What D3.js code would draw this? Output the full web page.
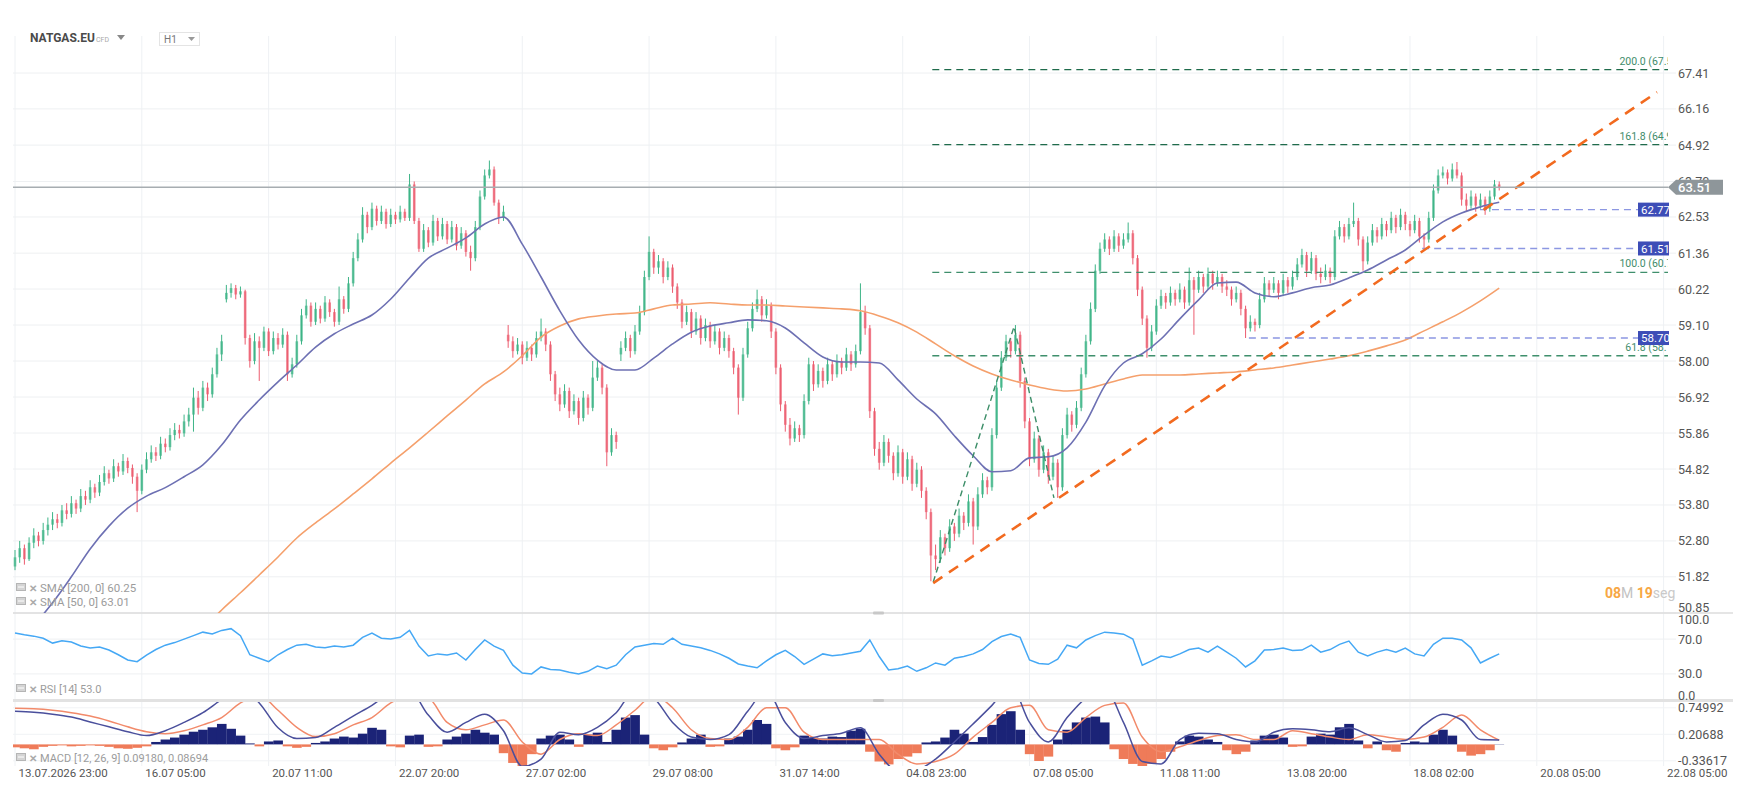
<!DOCTYPE html>
<html>
<head>
<meta charset="utf-8">
<script src="https://d3js.org/d3.v7.min.js"></script>
<style>
    body { margin: 0; background: #fff; font-family: Roboto, "Noto Sans", sans-serif; }
    svg { display: block; }
    .axis path, .axis line { display: none; }
    .axis text { font-family: Roboto, sans-serif; fill: #555; }
</style>
</head>
<body>
<svg id="chart"></svg>

<script>
// -------------------------------------- data --------------------------------------
// H1 chart, drawn here with one candle every 2 hours
const candleOpen = [
 52.10,52.35,52.60,52.30,52.75,52.95,52.80,53.10,53.25,53.40, 53.30,53.65,53.55,53.85,53.70,54.05,53.95,54.30,54.15,54.45,
 54.70,54.55,54.90,54.75,55.05,54.85,54.60,54.20,54.80,55.10, 55.30,55.20,55.55,55.45,55.80,55.95,55.85,56.20,56.40,56.90,
 56.60,57.20,57.00,57.60,58.20,59.90,60.10,60.25,60.05,60.15, 58.70,58.00,58.60,58.40,58.90,58.30,58.70,58.50,58.80,57.60,
 57.90,58.60,59.40,59.70,59.20,59.60,59.30,59.80,59.50,59.20, 59.90,59.60,60.40,61.20,61.80,62.60,62.20,62.80,62.40,62.70,
 62.30,62.60,62.45,62.70,62.50,63.60,62.40,61.50,62.10,61.70, 62.40,61.90,62.30,61.80,62.20,61.60,62.00,61.40,61.20,62.20,
 63.20,63.90,64.10,63.00,62.50,58.80,58.60,58.30,58.50,58.10, 58.40,58.20,58.70,58.90,58.50,57.60,57.00,56.70,57.10,56.50,
 56.80,56.30,56.90,56.60,57.50,57.80,57.20,55.30,55.80,58.20, 58.40,58.70,58.30,58.90,59.50,60.60,61.40,60.90,61.10,60.60,
 60.90,60.30,59.80,59.20,59.50,58.90,59.30,58.70,59.10,58.60, 58.90,58.40,58.70,58.30,57.80,56.90,58.20,59.00,59.60,59.90,
 59.40,59.70,58.90,57.80,56.70,56.10,55.70,56.00,55.80,56.80, 57.90,57.30,57.70,57.40,57.90,57.60,58.00,57.80,58.20,57.90,
 58.30,59.50,59.00,56.50,55.40,55.00,55.60,55.20,54.70,55.30, 54.60,55.10,54.40,54.80,54.20,53.60,52.40,52.30,52.90,52.60,
 53.20,53.00,53.50,53.30,53.90,53.20,54.10,54.50,54.30,55.80, 57.20,58.10,58.60,58.30,58.80,57.40,56.20,55.10,55.70,54.80,
 55.30,54.60,55.00,54.30,55.80,56.40,56.10,56.60,57.60,58.60, 59.60,60.80,61.50,61.80,61.50,61.90,61.60,61.80,62.00,61.20,
 60.20,59.30,58.40,58.90,59.70,60.00,59.80,60.10,59.90,60.20, 59.80,60.50,60.20,60.60,60.30,60.70,60.40,60.60,60.30,60.20,
 59.90,60.10,59.60,59.00,59.20,59.10,59.90,60.40,60.20,60.40, 60.10,60.50,60.30,60.60,61.00,61.30,60.80,61.20,60.70,60.60,
 60.80,60.60,61.90,62.20,61.90,62.30,62.40,61.80,61.10,61.70, 62.10,61.90,62.30,62.10,62.50,62.20,62.60,62.30,62.10,62.40,
 61.90,61.80,62.50,63.40,63.90,64.00,63.80,64.10,63.90,63.10, 62.90,63.20,62.90,63.10,62.80,63.20,63.60
];
const candleHigh = [
 52.55,52.80,52.70,52.90,53.15,53.05,53.30,53.45,53.60,53.55, 53.80,53.85,54.05,53.95,54.25,54.20,54.50,54.40,54.65,54.90,
 54.80,55.10,55.00,55.25,55.15,54.95,54.70,54.95,55.30,55.50, 55.45,55.75,55.70,56.00,56.15,56.10,56.40,56.60,57.20,57.10,
 57.40,57.35,57.80,58.40,58.80,60.35,60.40,60.35,60.30,60.20, 58.80,58.85,58.75,59.05,59.00,58.90,58.85,59.00,58.90,58.10,
 58.80,59.60,59.90,59.80,59.80,59.70,60.00,59.90,59.60,60.30, 60.00,60.60,61.40,62.00,62.85,62.70,63.00,62.90,62.90,62.80,
 62.80,62.70,62.90,62.80,63.95,63.70,62.50,62.30,62.20,62.60, 62.50,62.50,62.40,62.40,62.30,62.20,62.10,61.60,62.40,63.40,
 64.10,64.40,64.20,63.10,62.90,59.10,58.75,58.70,58.60,58.60, 58.50,58.90,59.30,59.00,58.60,57.70,57.20,57.30,57.20,57.00,
 56.90,57.10,57.00,58.00,58.00,57.90,57.30,56.00,55.90,58.60, 58.90,58.80,59.10,59.70,60.80,61.90,61.50,61.30,61.20,61.10,
 61.00,60.40,59.90,59.70,59.60,59.50,59.40,59.30,59.20,59.10, 59.00,58.90,58.80,58.40,57.90,58.40,59.20,59.80,60.20,60.00,
 59.90,59.80,59.00,57.90,56.80,56.30,56.20,56.10,57.00,58.10, 58.00,57.90,57.80,58.10,58.00,58.20,58.10,58.40,58.30,58.50,
 60.40,59.70,59.10,56.60,55.60,55.80,55.70,55.30,55.50,55.40, 55.30,55.20,55.00,54.90,54.30,53.70,52.70,53.10,53.00,53.40,
 53.30,53.70,53.60,54.10,54.00,54.30,54.70,54.60,56.00,57.40, 58.30,58.80,58.70,59.10,58.90,57.50,56.30,55.90,55.80,55.50,
 55.40,55.20,55.10,56.00,56.60,56.50,56.80,57.80,58.80,59.80, 61.00,61.70,62.00,61.90,62.10,62.00,62.00,62.35,62.10,61.30,
 60.30,59.40,59.10,59.90,60.20,60.10,60.30,60.20,60.40,60.30, 60.90,60.60,60.80,60.70,60.90,60.80,60.80,60.70,60.50,60.30,
 60.30,60.20,59.70,59.40,59.30,60.10,60.60,60.50,60.60,60.50, 60.70,60.60,60.80,61.20,61.50,61.40,61.40,61.30,60.90,61.00,
 60.90,62.10,62.40,62.30,62.50,63.00,62.50,61.90,61.90,62.30, 62.20,62.50,62.40,62.70,62.60,62.80,62.70,62.40,62.60,62.50,
 62.00,62.70,63.60,64.10,64.20,64.10,64.30,64.35,64.00,63.30, 63.40,63.30,63.30,63.20,63.40,63.75,63.70
];
const candleLow = [
 52.00,52.20,52.15,52.25,52.60,52.65,52.70,52.95,53.10,53.15, 53.20,53.40,53.45,53.55,53.60,53.80,53.85,54.00,54.05,54.35,
 54.40,54.45,54.60,54.65,54.70,54.40,53.60,54.10,54.70,55.00, 55.05,55.10,55.30,55.35,55.65,55.70,55.75,56.05,55.90,56.40,
 56.50,56.80,56.90,57.50,58.00,59.80,59.95,59.90,59.95,58.50, 57.80,57.90,57.40,58.30,58.15,58.20,58.35,58.40,57.40,57.50,
 57.80,58.50,59.30,59.05,59.10,59.15,59.20,59.35,59.05,59.10, 59.45,59.50,60.30,61.10,61.70,62.00,62.10,62.25,62.30,62.15,
 62.20,62.30,62.35,62.40,62.40,62.30,61.40,61.40,61.55,61.60, 61.75,61.80,61.65,61.70,61.45,61.50,61.25,60.80,61.10,62.10,
 63.10,63.80,62.90,62.30,62.40,58.40,58.10,58.20,57.90,58.00, 58.00,58.10,58.60,58.30,57.40,56.80,56.50,56.60,56.30,56.40,
 56.10,56.20,56.40,56.50,57.40,57.00,54.90,55.20,55.40,58.00, 58.30,58.10,58.20,58.80,59.40,60.50,60.70,60.70,60.40,60.50,
 60.10,59.60,59.00,59.10,58.70,58.80,58.50,58.60,58.40,58.50, 58.20,58.30,58.10,57.60,56.40,56.80,58.10,58.90,59.50,59.20,
 59.30,58.70,57.60,56.50,55.90,55.50,55.60,55.60,55.70,56.70, 57.10,57.20,57.20,57.30,57.40,57.50,57.60,57.70,57.70,57.80,
 58.20,58.80,56.30,55.20,54.80,54.90,55.00,54.50,54.60,54.40, 54.50,54.20,54.30,54.00,53.40,51.70,52.00,52.20,52.40,52.50,
 52.80,52.90,53.10,53.20,52.70,53.10,54.00,54.10,54.20,55.70, 57.10,58.00,58.10,58.20,57.20,56.00,54.90,55.00,54.60,54.70,
 54.40,54.50,54.00,54.20,55.70,55.90,56.00,56.50,57.50,58.50, 59.50,60.70,61.40,61.30,61.40,61.40,61.50,61.70,61.00,60.00,
 59.10,58.10,58.30,58.80,59.60,59.60,59.70,59.70,59.80,59.60, 59.70,58.80,60.10,60.10,60.20,60.20,60.30,60.10,60.00,59.70,
 59.80,59.40,58.70,58.90,58.90,59.00,59.80,60.00,60.10,59.90, 60.00,60.10,60.20,60.50,60.90,60.60,60.70,60.50,60.40,60.50,
 60.40,60.50,61.80,61.70,61.80,62.20,61.60,60.80,61.00,61.60, 61.70,61.80,61.90,62.00,62.00,62.10,62.10,61.90,62.00,61.70,
 61.50,61.70,62.40,63.30,63.80,63.60,63.70,63.80,62.90,62.70, 62.80,62.70,62.80,62.60,62.70,63.10,63.40
];
const candleClose = [
 52.35,52.60,52.30,52.75,52.95,52.80,53.10,53.25,53.40,53.30, 53.65,53.55,53.85,53.70,54.05,53.95,54.30,54.15,54.45,54.70,
 54.55,54.90,54.75,55.05,54.85,54.60,54.20,54.80,55.10,55.30, 55.20,55.55,55.45,55.80,55.95,55.85,56.20,56.40,56.90,56.60,
 57.20,57.00,57.60,58.20,58.60,60.10,60.25,60.05,60.15,58.70, 58.00,58.60,58.40,58.90,58.30,58.70,58.50,58.80,57.60,57.90,
 58.60,59.40,59.70,59.20,59.60,59.30,59.80,59.50,59.20,59.90, 59.60,60.40,61.20,61.80,62.60,62.20,62.80,62.40,62.70,62.30,
 62.60,62.45,62.70,62.50,63.60,62.40,61.50,62.10,61.70,62.40, 61.90,62.30,61.80,62.20,61.60,62.00,61.40,61.20,62.20,63.20,
 63.90,64.10,63.00,62.50,62.70,58.60,58.30,58.50,58.10,58.40, 58.20,58.70,58.90,58.50,57.60,57.00,56.70,57.10,56.50,56.80,
 56.30,56.90,56.60,57.50,57.80,57.20,55.30,55.80,55.60,58.40, 58.70,58.30,58.90,59.50,60.60,61.40,60.90,61.10,60.60,60.90,
 60.30,59.80,59.20,59.50,58.90,59.30,58.70,59.10,58.60,58.90, 58.40,58.70,58.30,57.80,56.90,58.20,59.00,59.60,59.90,59.40,
 59.70,58.90,57.80,56.70,56.10,55.70,56.00,55.80,56.80,57.90, 57.30,57.70,57.40,57.90,57.60,58.00,57.80,58.20,57.90,58.30,
 59.50,59.00,56.50,55.40,55.00,55.60,55.20,54.70,55.30,54.60, 55.10,54.40,54.80,54.20,53.60,52.40,52.30,52.90,52.60,53.20,
 53.00,53.50,53.30,53.90,53.20,54.10,54.50,54.30,55.80,57.20, 58.10,58.60,58.30,58.80,57.40,56.20,55.10,55.70,54.80,55.30,
 54.60,55.00,54.30,55.80,56.40,56.10,56.60,57.60,58.60,59.60, 60.80,61.50,61.80,61.50,61.90,61.60,61.80,62.00,61.20,60.20,
 59.30,58.40,58.90,59.70,60.00,59.80,60.10,59.90,60.20,59.80, 60.50,60.20,60.60,60.30,60.70,60.40,60.60,60.30,60.20,59.90,
 60.10,59.60,59.00,59.20,59.10,59.90,60.40,60.20,60.40,60.10, 60.50,60.30,60.60,61.00,61.30,60.80,61.20,60.70,60.60,60.80,
 60.60,61.90,62.20,61.90,62.30,62.40,61.80,61.10,61.70,62.10, 61.90,62.30,62.10,62.50,62.20,62.60,62.30,62.10,62.40,61.90,
 61.80,62.50,63.40,63.90,64.00,63.80,64.10,63.90,63.10,62.90, 63.20,62.90,63.10,62.80,63.20,63.60,63.51
];

// moving averages, one value every 4 candles
const sma50 = [
 50.14,50.54,51.12,51.82,52.58,53.21,53.71,54.05,54.29,54.60, 54.94,55.51,56.24,56.83,57.37,57.88,58.42,58.83,59.13,59.41,
 59.91,60.57,61.20,61.52,61.85,62.30,62.53,61.65,60.60,59.54, 58.64,58.03,57.73,57.73,58.09,58.52,58.88,59.07,59.17,59.26,
 59.23,59.01,58.55,58.12,57.97,57.97,57.94,57.43,56.86,56.42, 55.78,55.20,54.74,54.77,55.14,55.17,55.43,56.18,57.25,57.94,
 58.22,58.67,59.29,59.88,60.41,60.44,60.10,59.98,60.10,60.26, 60.35,60.57,60.82,61.14,61.46,61.94,62.37,62.66,62.86,63.01
];
const sma200 = [
 45.91,46.34,46.78,47.19,47.66,48.12,48.60,49.03,49.49,49.96, 50.43,50.93,51.39,51.87,52.36,52.88,53.30,53.69,54.11,54.54,
 54.99,55.43,55.89,56.36,56.83,57.31,57.67,58.16,58.73,59.07, 59.29,59.38,59.44,59.47,59.60,59.72,59.75,59.79,59.75,59.72,
 59.72,59.69,59.66,59.63,59.60,59.54,59.38,59.17,58.88,58.52, 58.16,57.85,57.61,57.43,57.28,57.16,57.10,57.16,57.31,57.46,
 57.58,57.58,57.58,57.61,57.64,57.67,57.73,57.79,57.88,57.97, 58.06,58.16,58.30,58.46,58.64,58.92,59.20,59.50,59.85,60.25
];

// RSI 14, one value every 2 candles
const rsi14 = [
 76.9,75,73.4,71,65.4,68,66.6,62,59.7,61, 57.4,52,46,44,51.7,58,63,66,70,74,
 78,76,80,82,74,52,48,44,52,58, 63,64,61,60,62,61,63,72,77,71,
 70,72,80,62,50.6,53,51.7,54,46,58, 69,62,57,40,31,30,38,35,34.6,32,
 30,33,39,36,40,52,61,63,65,64, 71,64,62,60,57,53,48,41.4,39,37,
 45,52,57,50,41,47,53,51,52,54, 56,69,50,34.6,36,39,33,37,42.6,40,
 48,50,53,58,67,73,75.7,72,46,42, 41,47,63,60,69,74,78,77,75.7,70,
 40,45,50.6,49,53,58,59.7,55,62,55, 48,38,45,57.4,58,59.7,57,57.4,63,55,
 58,64,67.7,55,50.6,55,58,55,59.7,53, 50.6,64,71,71,69,60,42.6,48,53
];

// MACD 12/26/9: histogram every 2 candles, lines every 4 candles
const macdHist = [
 -0.06,-0.08,-0.10,-0.05,-0.03,-0.02,-0.04,-0.03,-0.02,-0.03, -0.05,-0.08,-0.09,-0.07,-0.04,0.05,0.10,0.14,0.20,0.26,
 0.30,0.35,0.42,0.32,0.18,0.02,-0.04,0.06,0.08,-0.04, -0.07,-0.05,0.03,0.06,0.12,0.16,0.14,0.22,0.34,0.30,
 -0.04,-0.06,0.18,0.20,-0.05,-0.04,0.10,0.16,0.22,0.30, 0.24,0.20,-0.18,-0.38,-0.46,-0.20,0.12,0.18,0.20,0.10,
 -0.05,0.20,0.24,0.05,0.30,0.55,0.60,0.20,-0.08,-0.12, -0.06,0.04,0.12,0.20,-0.05,-0.04,0.12,0.16,0.30,0.50,
 0.42,-0.08,-0.12,-0.06,0.18,0.14,0.12,0.16,0.15,0.28, 0.32,-0.15,-0.35,-0.41,-0.30,-0.25,-0.18,0.04,0.06,0.14,
 0.30,0.22,0.05,0.15,0.40,0.62,0.68,0.30,-0.20,-0.34, -0.25,0.10,0.30,0.45,0.55,0.57,0.45,-0.10,-0.30,-0.40,
 -0.45,-0.40,-0.30,-0.15,0.06,0.18,0.16,0.10,0.05,-0.12, -0.20,-0.15,0.08,0.18,0.20,0.14,-0.05,-0.04,0.16,0.22,
 0.20,0.35,0.42,0.08,-0.08,0.06,-0.12,-0.15,0.03,0.06, 0.04,0.20,0.30,0.18,-0.15,-0.23,-0.20,-0.12,0.005
];
const macdLine = [
 0.68,0.66,0.62,0.56,0.46,0.36,0.26,0.18,0.28,0.45, 0.65,0.92,1.15,0.85,0.34,0.12,0.14,0.35,0.58,0.80,
 1.05,1.10,0.60,0.25,0.45,0.62,0.28,-0.45,-0.30,0.25, 0.20,0.35,0.65,1.10,0.95,0.45,0.15,0.10,0.20,0.68,
 1.10,0.45,0.12,0.18,0.23,0.34,-0.20,-0.55,-0.52,-0.30, 0.05,0.42,0.80,1.20,0.45,0.05,0.55,0.95,1.15,0.45,
 -0.35,-0.40,0.10,0.23,0.22,0.10,0.05,0.25,0.32,0.30, 0.26,0.34,0.20,0.05,0.08,0.40,0.62,0.50,0.10,0.0918
];
const macdSignal = [
 0.74,0.73,0.70,0.65,0.58,0.48,0.36,0.26,0.22,0.28, 0.40,0.55,0.85,1.00,0.70,0.35,0.16,0.22,0.40,0.55,
 0.85,1.00,0.95,0.45,0.30,0.40,0.50,0.05,-0.20,0.10, 0.22,0.18,0.40,0.70,1.00,0.75,0.30,0.12,0.10,0.35,
 0.75,0.75,0.25,0.10,0.10,0.10,0.10,-0.20,-0.40,-0.35, -0.20,0.15,0.45,0.75,0.80,0.30,0.25,0.55,0.80,0.85,
 0.15,-0.15,-0.05,0.08,0.18,0.20,0.10,0.10,0.28,0.22, 0.15,0.10,0.20,0.15,0.10,0.15,0.35,0.60,0.30,0.0869
];

// axes
const priceTicks = [67.41,66.16,64.92,63.70,62.53,61.36,60.22,59.10,58.00,56.92,55.86,54.82,53.80,52.80,51.82,50.85];
const rsiTicks = [100, 70, 30, 0];
const macdTicks = [0.74992, 0.20688, -0.33617];
const timeLabels = ["13.07.2026 23:00","16.07 05:00","20.07 11:00","22.07 20:00","27.07 02:00","29.07 08:00","31.07 14:00",
                    "04.08 23:00","07.08 05:00","11.08 11:00","13.08 20:00","18.08 02:00","20.08 05:00","22.08 05:00"];
const timeTickHours = [0,54,108,162,216,270,324,378,432,486,540,594,648,702];

// drawings on the chart (positions as candle index + price)
const fibNames = ["200.0","161.8","100.0","61.8"];
const fibPrices = [67.53, 64.94, 60.75, 58.16];
const fibStart = 195.3;
const alertPrices = [62.77, 61.51, 58.70];
const alertStart = [311.9, 299.6, 262.7];
const zigzagIdx = [195.5, 212.7, 221.2];
const zigzagPrice = [51.68, 59.05, 54.00];
const trendIdx = [195.5, 349.6];
const trendPrice = [51.65, 66.74];
const lastPrice = 63.51;

// -------------------------------------- layout --------------------------------------
const width = 1743, height = 799;
const plotLeft = 13, plotRight = 1668, axisX = 1676;
const mainTop = 37, mainBottom = 613, rsiBottom = 700, macdTop = 701, macdBottom = 766;

const upColor = "#3db487", downColor = "#ec5b6e";

const svg = d3.select("#chart").attr("width", width).attr("height", height)
    .style("font-family", "Roboto, sans-serif");

// x in hours from the first candle, candles every 2 hours
const x = d3.scaleLinear().domain([0, 702]).range([15, 1663.6]);
const xc = i => x(i * 2);
const y = d3.scaleLog().domain([50.85, 68.69]).range([mainBottom, mainTop]);
const yRsi = d3.scaleLinear().domain([0, 100]).range([rsiBottom, mainBottom]);
const yMacd = d3.scaleLinear().domain([-0.4426, 0.8893]).range([macdBottom, macdTop]);

const defs = svg.append("defs");
function clip(id, x0, y0, x1, y1) {
    defs.append("clipPath").attr("id", id).append("rect")
        .attr("x", x0).attr("y", y0).attr("width", x1 - x0).attr("height", y1 - y0);
}
clip("clipMain", plotLeft, mainTop, plotRight, mainBottom);
clip("clipRsi", plotLeft, mainBottom + 1, plotRight, rsiBottom);
clip("clipMacd", plotLeft, macdTop + 1, plotRight, macdBottom);
clip("clipTags", 1600, mainTop, plotRight + 1, mainBottom);

// -------------------------------------- grid --------------------------------------
const grid = svg.append("g");
grid.selectAll("line.vg").data(timeTickHours).join("line").attr("class", "vg")
    .attr("x1", d => x(d)).attr("x2", d => x(d))
    .attr("y1", 36).attr("y2", macdBottom)
    .attr("stroke", "#eef1f4");
grid.selectAll("line.hg").data(priceTicks).join("line").attr("class", "hg")
    .attr("x1", plotLeft).attr("x2", axisX)
    .attr("y1", d => y(d)).attr("y2", d => y(d))
    .attr("stroke", "#eef0f2");
grid.selectAll("line.rg").data([70, 30]).join("line").attr("class", "rg")
    .attr("x1", plotLeft).attr("x2", axisX)
    .attr("y1", d => yRsi(d)).attr("y2", d => yRsi(d))
    .attr("stroke", "#eef0f2");
grid.selectAll("line.mg").data(macdTicks).join("line").attr("class", "mg")
    .attr("x1", plotLeft).attr("x2", axisX)
    .attr("y1", d => yMacd(d)).attr("y2", d => yMacd(d))
    .attr("stroke", "#f1f3f5");

// panel separators
svg.append("line").attr("x1", plotLeft).attr("x2", 1733).attr("y1", mainBottom).attr("y2", mainBottom)
    .attr("stroke", "#dcdcdc").attr("stroke-width", 1.5);
svg.append("line").attr("x1", plotLeft).attr("x2", 1733).attr("y1", 700.5).attr("y2", 700.5)
    .attr("stroke", "#e2e2e2").attr("stroke-width", 3);
[mainBottom - 1.5, 699].forEach(yy => {
    svg.append("rect").attr("x", 873).attr("y", yy).attr("width", 11).attr("height", 3)
        .attr("fill", "#c8c8c8").attr("rx", 1);
});

// -------------------------------------- main panel --------------------------------------
const gMain = svg.append("g").attr("clip-path", "url(#clipMain)");

const candles = candleClose.map((c, i) => ({ i, o: candleOpen[i], h: candleHigh[i], l: candleLow[i], c }));

gMain.selectAll("line.wick").data(candles).join("line").attr("class", "wick")
    .attr("x1", d => xc(d.i)).attr("x2", d => xc(d.i))
    .attr("y1", d => y(d.h)).attr("y2", d => y(d.l))
    .attr("stroke", d => d.c >= d.o ? upColor : downColor)
    .attr("stroke-width", 1);
gMain.selectAll("rect.body").data(candles).join("rect").attr("class", "body")
    .attr("x", d => xc(d.i) - 1.3).attr("width", 2.6)
    .attr("y", d => y(Math.max(d.o, d.c)))
    .attr("height", d => Math.max(1, Math.abs(y(d.o) - y(d.c))))
    .attr("fill", d => d.c >= d.o ? upColor : downColor)
    .attr("fill-opacity", 0.72);

// moving averages
const smaLine = d3.line().x((d, k) => xc(k * 4)).y(d => y(d)).curve(d3.curveMonotoneX);
gMain.append("path").datum(sma200).attr("d", smaLine)
    .attr("fill", "none").attr("stroke", "#f5a06c").attr("stroke-width", 1.6);
gMain.append("path").datum(sma50).attr("d", smaLine)
    .attr("fill", "none").attr("stroke", "#6d70b3").attr("stroke-width", 1.6);

// fibonacci levels
fibPrices.forEach((p, k) => {
    gMain.append("line")
        .attr("x1", xc(fibStart)).attr("x2", plotRight)
        .attr("y1", y(p)).attr("y2", y(p))
        .attr("stroke", k < 2 ? "#1f6b4b" : "#3f8f6c").attr("stroke-width", 1.3)
        .attr("stroke-dasharray", "7,5");
    gMain.append("text")
        .attr("x", 1682).attr("y", y(p) - 5)
        .attr("text-anchor", "end").attr("font-size", 10.5).attr("fill", "#3f8c6b")
        .text(fibNames[k] + " (" + p.toFixed(2) + ")");
});

// fib zigzag
gMain.append("path")
    .datum(zigzagIdx.map((d, k) => [d, zigzagPrice[k]]))
    .attr("d", d3.line().x(d => xc(d[0])).y(d => y(d[1])))
    .attr("fill", "none").attr("stroke", "#3b8d67").attr("stroke-width", 1.4)
    .attr("stroke-dasharray", "6,4");

// alert lines
alertPrices.forEach((p, k) => {
    gMain.append("line")
        .attr("x1", xc(alertStart[k])).attr("x2", plotRight)
        .attr("y1", y(p)).attr("y2", y(p))
        .attr("stroke", "#8c97e2").attr("stroke-width", 1.4)
        .attr("stroke-dasharray", "7,5");
});

// trend line
gMain.append("path")
    .datum(trendIdx.map((d, k) => [d, trendPrice[k]]))
    .attr("d", d3.line().x(d => xc(d[0])).y(d => y(d[1])))
    .attr("fill", "none").attr("stroke", "#f26a1f").attr("stroke-width", 2.6)
    .attr("stroke-dasharray", "11,8");

// last price line
svg.append("line")
    .attr("x1", plotLeft).attr("x2", plotRight)
    .attr("y1", y(lastPrice)).attr("y2", y(lastPrice))
    .attr("stroke", "#a7adb1").attr("stroke-width", 1.5);

// -------------------------------------- RSI panel --------------------------------------
svg.append("g").attr("clip-path", "url(#clipRsi)")
    .append("path").datum(rsi14)
    .attr("d", d3.line().x((d, k) => xc(k * 2)).y(d => yRsi(d)))
    .attr("fill", "none").attr("stroke", "#45a8f5").attr("stroke-width", 1.5);

// -------------------------------------- MACD panel --------------------------------------
const gMacd = svg.append("g").attr("clip-path", "url(#clipMacd)");
gMacd.selectAll("rect.hist").data(macdHist).join("rect").attr("class", "hist")
    .attr("x", (d, k) => xc(k * 2) - 4.7).attr("width", 9.6)
    .attr("y", d => yMacd(Math.max(d, 0)))
    .attr("height", d => Math.abs(yMacd(d) - yMacd(0)))
    .attr("fill", d => d >= 0 ? "#1b2377" : "#ef7b59");
const macdPath = d3.line().x((d, k) => xc(k * 4)).y(d => yMacd(d)).curve(d3.curveMonotoneX);
gMacd.append("path").datum(macdSignal).attr("d", macdPath)
    .attr("fill", "none").attr("stroke", "#f28a6a").attr("stroke-width", 1.5);
gMacd.append("path").datum(macdLine).attr("d", macdPath)
    .attr("fill", "none").attr("stroke", "#4a4f9c").attr("stroke-width", 1.5);

// -------------------------------------- axes --------------------------------------
svg.append("g").attr("class", "axis").attr("transform", `translate(${axisX},0)`)
    .call(d3.axisRight(y).tickValues(priceTicks).tickFormat(d3.format(".2f")).tickSize(0).tickPadding(2))
    .call(g => g.selectAll("text").attr("font-size", 12.5))
    .call(g => g.selectAll("text").filter(d => d === 50.85).attr("dy", "-0.1em"));

svg.append("g").attr("class", "axis").attr("transform", `translate(${axisX},0)`)
    .call(d3.axisRight(yRsi).tickValues(rsiTicks).tickFormat(d3.format(".1f")).tickSize(0).tickPadding(2))
    .call(g => g.selectAll("text").attr("font-size", 12.5))
    .call(g => g.selectAll("text").filter(d => d === 100).attr("dy", "0.8em"))
    .call(g => g.selectAll("text").filter(d => d === 0).attr("dy", "-0.08em"));

svg.append("g").attr("class", "axis").attr("transform", `translate(${axisX},0)`)
    .call(d3.axisRight(yMacd).tickValues(macdTicks).tickFormat(d => d.toFixed(5)).tickSize(0).tickPadding(2))
    .call(g => g.selectAll("text").attr("font-size", 12.5));

svg.append("g").attr("class", "axis").attr("transform", `translate(0,${macdBottom + 1})`)
    .call(d3.axisBottom(x).tickValues(timeTickHours).tickFormat((d, i) => timeLabels[i]).tickSize(0).tickPadding(2))
    .call(g => g.selectAll("text").attr("font-size", 11.5).attr("text-anchor", "start").attr("dx", 3));

// -------------------------------------- price tags --------------------------------------
const ly = y(lastPrice);
svg.append("path")
    .attr("d", `M${plotRight},${ly} L${plotRight + 8},${ly - 7.5} L1723,${ly - 7.5} L1723,${ly + 7.5} L${plotRight + 8},${ly + 7.5} Z`)
    .attr("fill", "#8e969a");
svg.append("text").attr("x", 1678).attr("y", ly + 4.5)
    .attr("font-size", 13).attr("font-weight", 500).attr("fill", "#fff").text(lastPrice.toFixed(2));

const gTags = svg.append("g").attr("clip-path", "url(#clipTags)");
alertPrices.forEach(p => {
    gTags.append("rect").attr("x", 1638).attr("y", y(p) - 7).attr("width", 32).attr("height", 14)
        .attr("fill", "#3d4db7");
    gTags.append("text").attr("x", 1641).attr("y", y(p) + 4.2)
        .attr("font-size", 11.5).attr("fill", "#fff").text(p.toFixed(2));
});

// -------------------------------------- header & legends --------------------------------------
svg.append("text").attr("x", 30).attr("y", 42).attr("font-size", 12).attr("font-weight", 700)
    .attr("fill", "#4a4a4a").text("NATGAS.EU");
svg.append("text").attr("x", 96).attr("y", 42).attr("font-size", 7).attr("fill", "#aaa").text("CFD");
svg.append("path").attr("d", "M117,35 L125,35 L121,40 Z").attr("fill", "#888");
svg.append("rect").attr("x", 159.5).attr("y", 32.5).attr("width", 40).attr("height", 13)
    .attr("fill", "#fff").attr("stroke", "#e4e4e4");
svg.append("text").attr("x", 164).attr("y", 43).attr("font-size", 10).attr("fill", "#777").text("H1");
svg.append("path").attr("d", "M188,37 L195,37 L191.5,41 Z").attr("fill", "#999");

function legend(yy, label, size) {
    const g = svg.append("g");
    g.append("rect").attr("x", 16.5).attr("y", yy - 8.5).attr("width", 9).attr("height", 7)
        .attr("fill", "#d4d4d4").attr("stroke", "#b5b5b5");
    g.append("line").attr("x1", 18).attr("x2", 24).attr("y1", yy - 5).attr("y2", yy - 5).attr("stroke", "#fff");
    g.append("text").attr("x", 28.5).attr("y", yy).attr("font-size", 10).attr("font-weight", 700)
        .attr("fill", "#aaa").text("✕");
    g.append("text").attr("x", 40).attr("y", yy).attr("font-size", size).attr("fill", "#9c9c9c").text(label);
}
legend(592, "SMA [200, 0] 60.25", 11.5);
legend(606, "SMA [50, 0] 63.01", 11.5);
legend(693, "RSI [14] 53.0", 11);
legend(762, "MACD [12, 26, 9] 0.09180, 0.08694", 11);

// countdown to next candle
const timer = svg.append("text").attr("x", 1605).attr("y", 598).attr("font-size", 14);
timer.append("tspan").attr("fill", "#f7a744").attr("font-weight", 700).text("08");
timer.append("tspan").attr("fill", "#c2c2c2").text("M ");
timer.append("tspan").attr("fill", "#f7a744").attr("font-weight", 700).text("19");
timer.append("tspan").attr("fill", "#c9c9c9").text("seg");
</script>
</body>
</html>
